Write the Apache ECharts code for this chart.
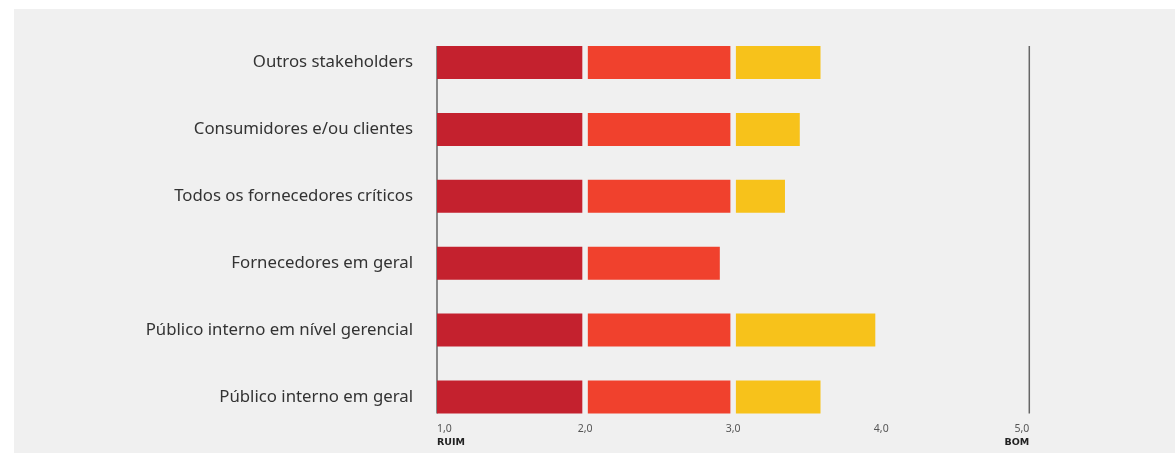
<!DOCTYPE html>
<html>
<head>
<meta charset="utf-8">
<script src="https://cdn.jsdelivr.net/npm/echarts@6/dist/echarts.min.js"></script>
<style>
  html, body { margin: 0; padding: 0; background: #ffffff; }
  #chart { width: 1175px; height: 453px; }
</style>
</head>
<body>
<div id="chart"></div>
<script>
// Categories, top to bottom
const categories = [
  'Outros stakeholders',
  'Consumidores e/ou clientes',
  'Todos os fornecedores críticos',
  'Fornecedores em geral',
  'Público interno em nível gerencial',
  'Público interno em geral'
];

// Average score per category (scale 1,0 – 5,0)
const scores = [3.59, 3.45, 3.35, 2.91, 3.96, 3.59];

// Scale bounds and labels
const scaleMin = 1;
const scaleMax = 5;
const tickLabels = ['1,0', '2,0', '3,0', '4,0', '5,0'];
const endLabels = ['RUIM', '', '', '', 'BOM'];

// Band colours: 1–2, 2–3, 3–4
const bandColors = ['#c4212e', '#f0412d', '#f7c21b', '#f7c21b'];

const BAR_H = 33;
const GAP = 2.75;

const chart = echarts.init(document.getElementById('chart'), null, { renderer: 'canvas' });

const barData = scores.map((s, i) => [s, i]);
const refLines = [[scaleMin, 0], [scaleMax, 0]];

function renderBars(params, api) {
  const score = api.value(0);
  const cat = api.value(1);
  const children = [];
  for (let b = scaleMin; b < scaleMax && b < score; b++) {
    const from = b;
    const to = Math.min(b + 1, score);
    const p0 = api.coord([from, cat]);
    const p1 = api.coord([to, cat]);
    let x0 = p0[0];
    let x1 = p1[0];
    if (from > scaleMin) x0 += GAP;
    if (to === b + 1 && to < score) x1 -= GAP;
    children.push({
      type: 'rect',
      shape: { x: x0, y: p0[1] - BAR_H / 2, width: Math.max(0, x1 - x0), height: BAR_H },
      style: { fill: bandColors[b - scaleMin] }
    });
  }
  return { type: 'group', children };
}

function renderRefLine(params, api) {
  const x = api.value(0);
  const top = api.coord([x, 0]);
  const bottom = api.coord([x, categories.length - 1]);
  return {
    type: 'line',
    shape: { x1: top[0], y1: top[1] - BAR_H / 2, x2: bottom[0], y2: bottom[1] + BAR_H / 2 },
    style: { stroke: '#666666', lineWidth: 1.5 }
  };
}

const option = {
  backgroundColor: '#ffffff',
  animation: false,
  graphic: [{
    type: 'rect',
    silent: true,
    z: -10,
    shape: { x: 14, y: 9, width: 1161, height: 444 },
    style: { fill: '#f0f0f0' }
  }],
  grid: { left: 437, right: 145.7, top: 62.5, bottom: 56, containLabel: false },
  xAxis: {
    type: 'value',
    min: scaleMin,
    max: scaleMax,
    interval: 1,
    axisLine: { show: false },
    axisTick: { show: false },
    splitLine: { show: false },
    axisLabel: {
      margin: 25,
      alignMinLabel: 'left',
      alignMaxLabel: 'right',
      formatter: function (v) {
        const i = Math.round(v - scaleMin);
        const t = '{v|' + tickLabels[i] + '}';
        return endLabels[i] ? t + '\n{b|' + endLabels[i] + '}' : t;
      },
      rich: {
        v: { fontFamily: 'Noto Sans', fontSize: 10.5, color: '#555555', lineHeight: 14 },
        b: { fontFamily: 'DejaVu Sans', fontSize: 9.5, fontWeight: 'bold', color: '#222222', lineHeight: 14 }
      }
    }
  },
  yAxis: {
    type: 'category',
    data: categories,
    inverse: true,
    boundaryGap: false,
    axisLine: { show: false },
    axisTick: { show: false },
    splitLine: { show: false },
    axisLabel: {
      margin: 24,
      fontFamily: 'Noto Sans',
      fontSize: 16.8,
      color: '#333333'
    }
  },
  series: [
    {
      type: 'custom',
      renderItem: renderRefLine,
      data: refLines,
      encode: { x: 0, y: 1 },
      clip: false,
      z: 1
    },
    {
      type: 'custom',
      renderItem: renderBars,
      data: barData,
      encode: { x: 0, y: 1 },
      clip: false,
      z: 2
    }
  ]
};

chart.setOption(option);
</script>
</body>
</html>
